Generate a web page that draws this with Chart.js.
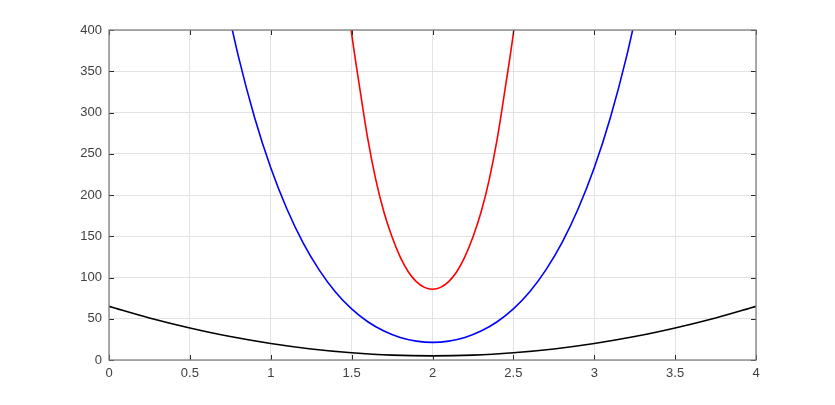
<!DOCTYPE html>
<html>
<head>
<meta charset="utf-8">
<script src="https://cdn.jsdelivr.net/npm/chart.js@4/dist/chart.umd.min.js"></script>
<style>
html,body{margin:0;padding:0;background:#fff;}
#wrap{width:835px;height:405px;position:relative;}
</style>
</head>
<body>
<div id="wrap"><canvas id="c" width="835" height="405"></canvas></div>
<script>
// x positions and values
const blackX = [0,0.25,0.5,0.75,1,1.25,1.5,1.75,2,2.25,2.5,2.75,3,3.25,3.5,3.75,4];
const blackY = [65,50.9,38.8,28.4,20,13.4,8.8,5.9,5,5.9,8.8,13.4,20,28.4,38.8,50.9,65];

const blueX = [0.7,0.8,0.9,1.0,1.1,1.2,1.3,1.4,1.5,1.6,1.7,1.8,1.9,2.0,2.1,2.2,2.3,2.4,2.5,2.6,2.7,2.8,2.9,3.0,3.1,3.2,3.3];
const blueY = [456,368,294,233,183,142,109,82.5,62,46.4,35.1,27.3,22.9,21.4,22.9,27.3,35.1,46.4,62,82.5,109,142,183,233,294,368,456];

const redX = [1.45,1.5,1.55,1.6,1.65,1.7,1.75,1.8,1.85,1.9,1.95,2.0,2.05,2.1,2.15,2.2,2.25,2.3,2.35,2.4,2.45,2.5,2.55];
const redY = [477,396,330,268,218,179,149,125,107,95,88,85.7,88,95,107,125,149,179,218,268,330,396,477];

const xTicks = [0,0.5,1,1.5,2,2.5,3,3.5,4];
const yTicks = [0,50,100,150,200,250,300,350,400];

function pts(xs, ys){ return xs.map((x,i)=>({x:x,y:ys[i]})); }

const boxPlugin = {
  id:'box',
  afterDatasetsDraw(chart){
    const {ctx, chartArea:a, scales:{x,y}} = chart;
    ctx.save();
    ctx.strokeStyle = '#262626';
    ctx.lineWidth = 1;
    ctx.beginPath();
    const tl = 5;
    xTicks.forEach(v=>{
      const px = Math.round(x.getPixelForValue(v))+0.5;
      ctx.moveTo(px,a.bottom); ctx.lineTo(px,a.bottom-tl);
      ctx.moveTo(px,a.top); ctx.lineTo(px,a.top+tl);
    });
    yTicks.forEach(v=>{
      const py = Math.round(y.getPixelForValue(v))+0.5;
      ctx.moveTo(a.left,py); ctx.lineTo(a.left+tl,py);
      ctx.moveTo(a.right,py); ctx.lineTo(a.right-tl,py);
    });
    ctx.stroke();
    ctx.strokeStyle = '#808080';
    ctx.lineWidth = 1.3;
    ctx.strokeRect(a.left, a.top, a.right-a.left, a.bottom-a.top);
    ctx.restore();
  }
};

const lineCommon = {borderWidth:1.6, pointRadius:0, fill:false, cubicInterpolationMode:'monotone'};

new Chart(document.getElementById('c'), {
  type:'line',
  data:{
    datasets:[
      Object.assign({label:'k', data:pts(blackX,blackY), borderColor:'#000000'}, lineCommon),
      Object.assign({label:'b', data:pts(blueX,blueY), borderColor:'#0000ff'}, lineCommon),
      Object.assign({label:'r', data:pts(redX,redY), borderColor:'#ff0000'}, lineCommon)
    ]
  },
  options:{
    responsive:false,
    animation:false,
    parsing:true,
    layout:{padding:{top:30,right:79,left:0,bottom:0}},
    plugins:{legend:{display:false},tooltip:{enabled:false}},
    scales:{
      x:{
        type:'linear', min:0, max:4,
        afterBuildTicks(s){ s.ticks = xTicks.map(v=>({value:v})); },
        afterFit(s){ s.height = 45; },
        grid:{color:'#e3e3e3', drawTicks:false, lineWidth:1},
        border:{display:false},
        ticks:{padding:6, color:'#404040', font:{family:'Arial, "Liberation Sans", sans-serif', size:13}, maxRotation:0,
          callback:v=>String(v)}
      },
      y:{
        type:'linear', min:0, max:400,
        afterBuildTicks(s){ s.ticks = yTicks.map(v=>({value:v})); },
        afterFit(s){ s.width = 109; },
        grid:{color:'#e3e3e3', drawTicks:false, lineWidth:1},
        border:{display:false},
        ticks:{padding:7, color:'#404040', font:{family:'Arial, "Liberation Sans", sans-serif', size:13},
          callback:v=>String(v)}
      }
    }
  },
  plugins:[boxPlugin]
});
</script>
</body>
</html>
